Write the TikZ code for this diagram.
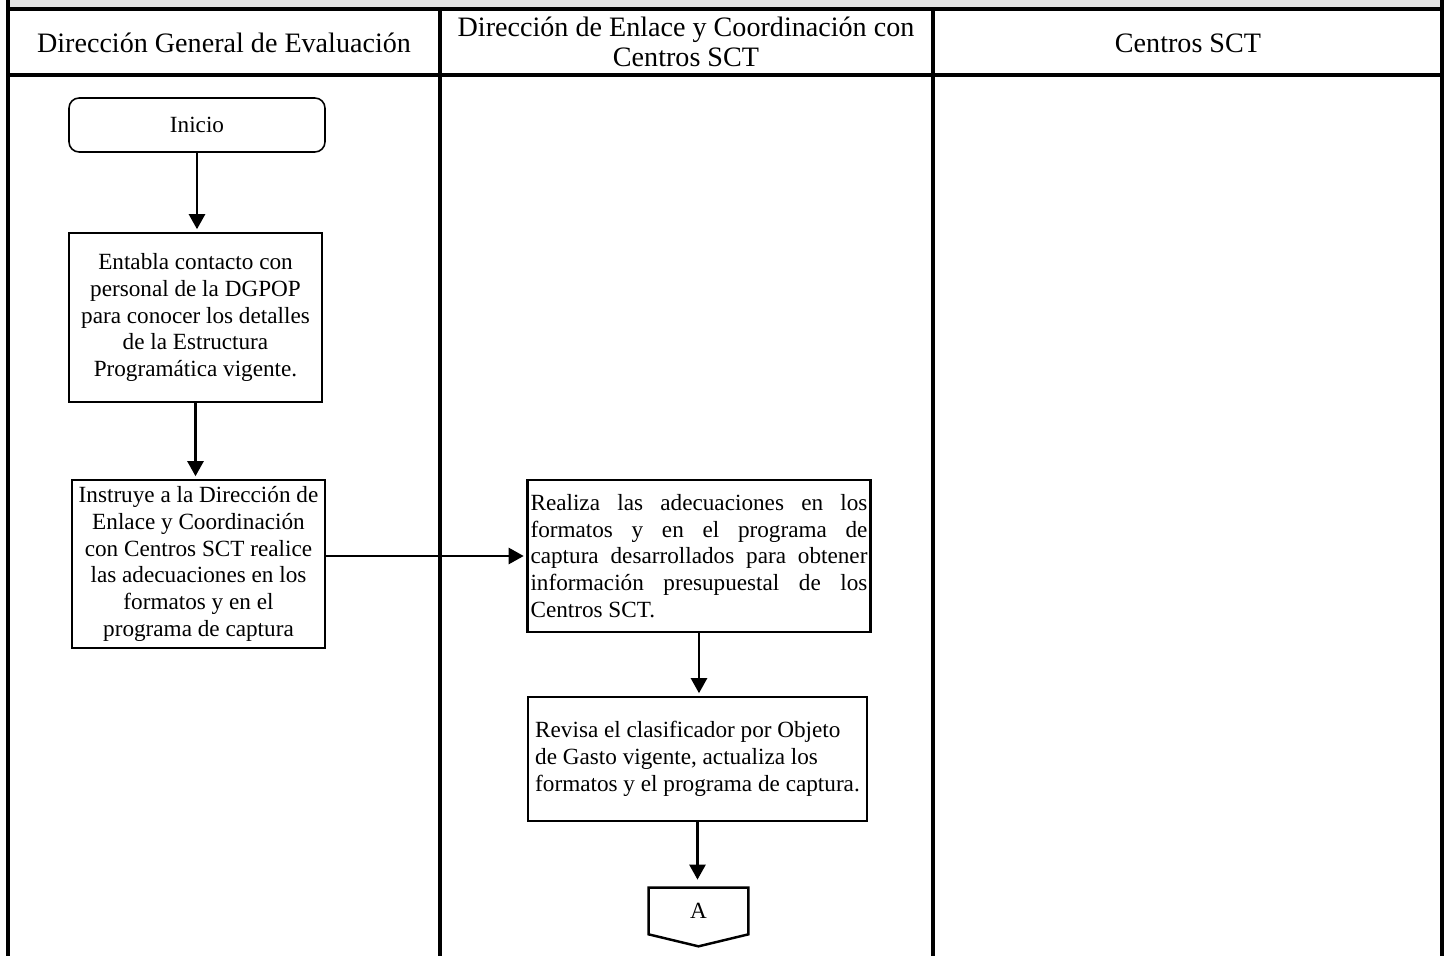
\documentclass[tikz,border=0pt]{standalone}
\usepackage{fontspec}
\setmainfont{Liberation Serif}
\usetikzlibrary{arrows.meta,calc}
\begin{document}
\begin{tikzpicture}[x=0.02cm,y=-0.02cm,
  lane/.style={line width=2.1pt},
  hdr/.style={font=\fontsize{16}{17.2}\selectfont, align=center, inner sep=0pt},
  procbox/.style={draw, line width=1.5pt, font=\fontsize{13.2}{15.2}\selectfont, inner sep=0.06cm},
  startbox/.style={draw, line width=0.9pt, rounded corners=0.2cm, font=\fontsize{13.2}{15}\selectfont,
    minimum width=5.12cm, minimum height=1.08cm},
  flow/.style={line width=1.4pt, -{Triangle[length=0.3cm,width=0.32cm]}, shorten >=0.05cm},
]
\useasboundingbox (0,0) rectangle (1448,956);
% lane frame
\fill[gray!22] (8,0) rectangle (1442,9);
\draw[lane] (8,0) -- (8,956);
\draw[lane] (1442,0) -- (1442,956);
\draw[lane] (8,9) -- (1442,9);
\draw[lane] (8,75) -- (1442,75);
\draw[lane] (440,9) -- (440,956);
\draw[lane] (933,9) -- (933,956);
% headers
\node[hdr] (h1) at (224,43) {Dirección General de Evaluación};
\node[hdr] (h2) at (686,42) {Dirección de Enlace y Coordinación con\\Centros SCT};
\node[hdr] (h3) at (1188,43) {Centros SCT};
% nodes
\node[startbox] (inicio) at (197,125) {Inicio};
\node[procbox, minimum width=5.06cm, minimum height=3.38cm, align=center] (b1) at (195.5,317.5)
  {Entabla contacto con\\personal de la DGPOP\\para conocer los detalles\\de la Estructura\\Programática vigente.};
\node[procbox, minimum width=5.06cm, minimum height=3.36cm, align=center] (b2) at (198.5,564)
  {Instruye a la Dirección de\\Enlace y Coordinación\\con Centros SCT realice\\las adecuaciones en los\\formatos y en el\\programa de captura};
\node[procbox, minimum height=3.04cm, text width=6.74cm, align=justify] (b3) at (699,556)
  {Realiza las adecuaciones en los\linebreak formatos y en el programa de\linebreak captura desarrollados para obtener\linebreak información presupuestal de los\linebreak Centros SCT.};
\node[procbox, minimum width=6.78cm, minimum height=2.48cm, align=left] (b4) at (697.5,759)
  {Revisa el clasificador por Objeto\\de Gasto vigente, actualiza los\\formatos y el programa de captura.};
\node[minimum width=1.98cm, minimum height=0.92cm, inner sep=0pt, font=\fontsize{13.2}{15}\selectfont] (A) at (698.5,911) {A};
\draw[line width=1.4pt] (A.north west) -- (A.south west) -- ($(A.south)+(0,12)$) -- (A.south east) -- (A.north east) -- cycle;
% connectors
\draw[flow] (inicio.south) -- (inicio.south |- b1.north);
\draw[flow] (b1.south) -- (b1.south |- b2.north);
\draw[flow] (b2.east |- b3.west) -- (b3.west);
\draw[flow] (b3.south) -- (b3.south |- b4.north);
\draw[flow, shorten >=0.16cm] (b4.south) -- (b4.south |- A.north);
\end{tikzpicture}
\end{document}
